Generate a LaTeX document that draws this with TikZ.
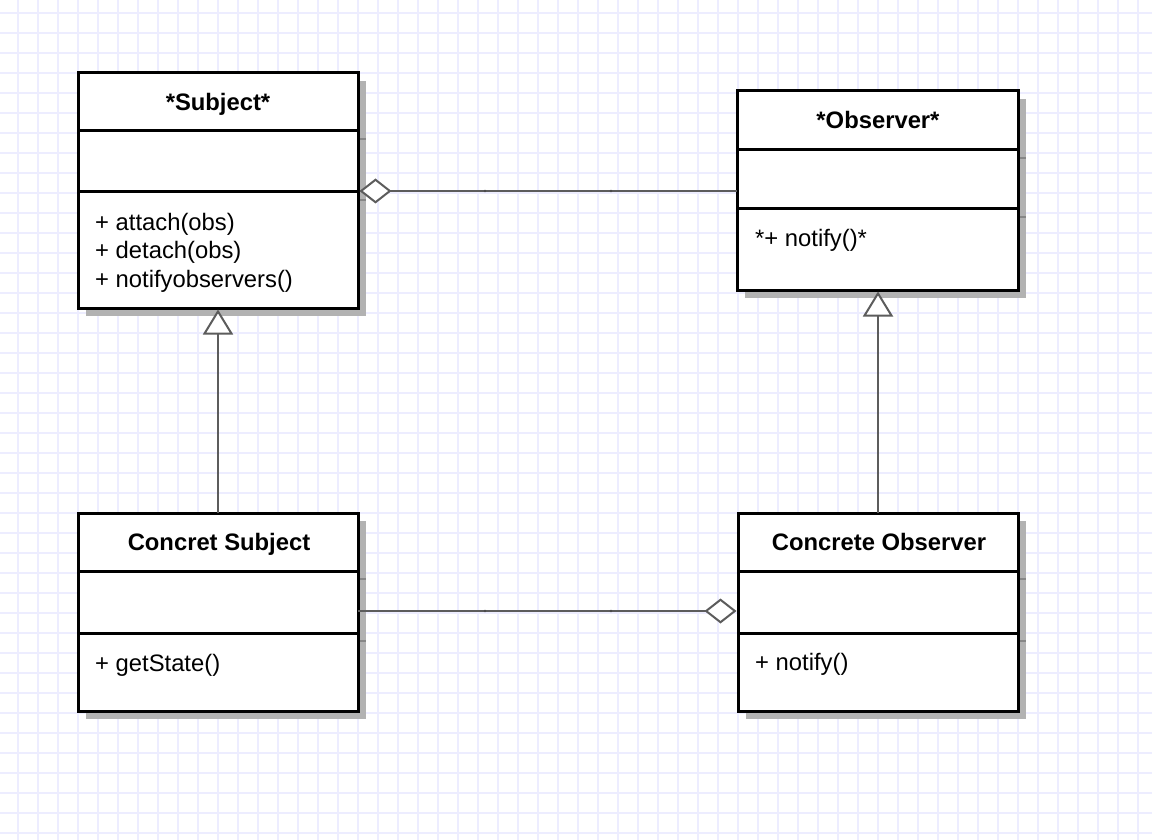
\documentclass[tikz,border=0pt]{standalone}
\usepackage{fontspec}
\setmainfont{Liberation Sans}
\usetikzlibrary{arrows.meta,calc}
\definecolor{gridc}{RGB}{237,237,255}
\definecolor{shadowc}{RGB}{178,178,178}
\definecolor{shadowline}{RGB}{135,135,135}
\definecolor{linkc}{RGB}{92,92,92}
\begin{document}
\begin{tikzpicture}[x=1pt,y=-1pt,
  compart/.style={draw=black, line width=3pt, fill=white, rectangle, inner sep=0pt, outer sep=0pt, anchor=north west},
  titletext/.style={inner sep=0pt, anchor=base, font=\fontsize{23.8}{28}\selectfont\bfseries},
  optext/.style={inner sep=0pt, anchor=base west, font=\fontsize{23.8}{28}\selectfont},
  shadowbox/.style={fill=shadowc},
  shadowdiv/.style={draw=shadowline, line width=1.2pt},
  link/.style={draw=linkc, line width=2.5pt},
  waypt/.style={fill=linkc!80!black}
]
\useasboundingbox (0,0) rectangle (1152,840);
\fill[white] (0,0) rectangle (1152,840);
% grid
\foreach \gx in {18,38,...,1138} \draw[gridc, line width=1.6pt] (\gx,0) -- (\gx,840);
\foreach \gy in {13,33,...,833} \draw[gridc, line width=1.6pt] (0,\gy) -- (1152,\gy);

% shadows
\fill[shadowbox] (86,81) rectangle (366,316);
\draw[shadowdiv] (86,139) -- (366,139) (86,200) -- (366,200);
\fill[shadowbox] (745,99) rectangle (1026,298);
\draw[shadowdiv] (745,158) -- (1026,158) (745,217) -- (1026,217);
\fill[shadowbox] (86,521) rectangle (366,719);
\draw[shadowdiv] (86,579) -- (366,579) (86,641) -- (366,641);
\fill[shadowbox] (746,521) rectangle (1026,719);
\draw[shadowdiv] (746,579) -- (1026,579) (746,641) -- (1026,641);

% Subject
\node[compart, minimum width=280pt, minimum height=58pt] (subjT) at (78,73) {};
\node[compart, minimum width=280pt, minimum height=61pt] (subjA) at (78,131) {};
\node[compart, minimum width=280pt, minimum height=116pt] (subjO) at (78,192) {};
\node[titletext] (subjname) at (218,110.5) {*Subject*};
\node[optext] (subjop1) at (95,230) {+ attach(obs)};
\node[optext] (subjop2) at (95,258.5) {+ detach(obs)};
\node[optext] (subjop3) at (95,287) {+ notifyobservers()};

% Observer
\node[compart, minimum width=281pt, minimum height=59pt] (obsT) at (737,91) {};
\node[compart, minimum width=281pt, minimum height=59pt] (obsA) at (737,150) {};
\node[compart, minimum width=281pt, minimum height=81pt] (obsO) at (737,209) {};
\node[titletext] (obsname) at (878,128.5) {*Observer*};
\node[optext] (obsop1) at (755,247) {*+ notify()*};

% Concrete Subject
\node[compart, minimum width=280pt, minimum height=58pt] (csubT) at (78,513) {};
\node[compart, minimum width=280pt, minimum height=62pt] (csubA) at (78,571) {};
\node[compart, minimum width=280pt, minimum height=78pt] (csubO) at (78,633) {};
\node[titletext] (csubname) at (219,550) {Concret Subject};
\node[optext] (csubop1) at (95,671) {+ getState()};

% Concrete Observer
\node[compart, minimum width=280pt, minimum height=58pt] (cobsT) at (738,513) {};
\node[compart, minimum width=280pt, minimum height=62pt] (cobsA) at (738,571) {};
\node[compart, minimum width=280pt, minimum height=78pt] (cobsO) at (738,633) {};
\node[titletext] (cobsname) at (879,550) {Concrete Observer};
\node[optext] (cobsop1) at (755,670) {+ notify()};

% connectors
\coordinate (aggtop) at ($(subjO.north east)+(1.5,-1)$);
\draw[link, {Diamond[length=32pt, width=25pt, fill=white, line width=2pt]}-] (aggtop) -- (aggtop -| obsA.west);
\coordinate (aggbot) at ($(csubA.north east)+(0,40)$);
\draw[link, -{Diamond[length=32pt, width=25pt, fill=white, line width=2pt]}] (aggbot) -- ($(aggbot -| cobsA.west)+(-1.5,0)$);
\draw[link, -{Triangle[length=25pt, width=30pt, fill=white, line width=2pt]}] (csubT.north) -- ($(csubT.north |- subjO.south)+(0,1.5)$);
\draw[link, -{Triangle[length=25pt, width=30pt, fill=white, line width=2pt]}] (cobsT.north) -- ($(cobsT.north |- obsO.south)+(0,1.5)$);

% waypoints
\fill[waypt] (485,191) circle (1.4) (611,191) circle (1.4) (485,611) circle (1.4) (611,611) circle (1.4);
\end{tikzpicture}
\end{document}
